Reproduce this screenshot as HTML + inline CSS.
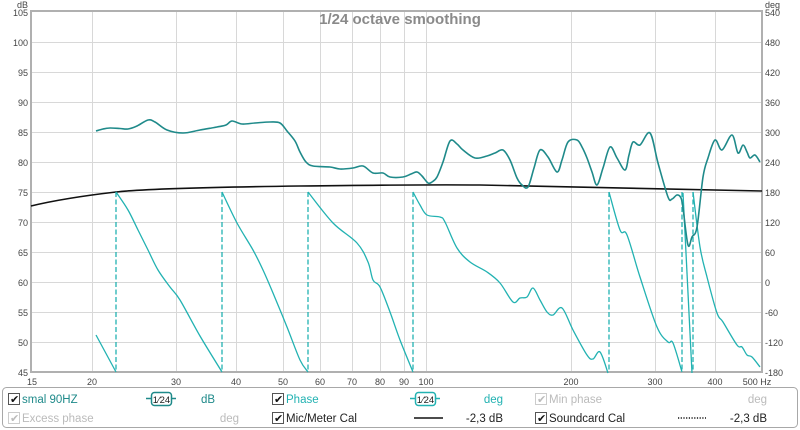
<!DOCTYPE html>
<html><head><meta charset="utf-8"><style>
body{margin:0;background:#fff;}
svg{display:block;font-family:"Liberation Sans",sans-serif;}
</style></head><body>
<svg width="800" height="430" viewBox="0 0 800 430" xmlns="http://www.w3.org/2000/svg">
<rect width="800" height="430" fill="#fff"/>
<g stroke="#d8d8d8" stroke-width="1">
<line x1="31" y1="42.5" x2="762" y2="42.5"/><line x1="31" y1="72.5" x2="762" y2="72.5"/><line x1="31" y1="102.5" x2="762" y2="102.5"/><line x1="31" y1="132.5" x2="762" y2="132.5"/><line x1="31" y1="162.5" x2="762" y2="162.5"/><line x1="31" y1="192.5" x2="762" y2="192.5"/><line x1="31" y1="222.5" x2="762" y2="222.5"/><line x1="31" y1="252.5" x2="762" y2="252.5"/><line x1="31" y1="282.5" x2="762" y2="282.5"/><line x1="31" y1="312.5" x2="762" y2="312.5"/><line x1="31" y1="342.5" x2="762" y2="342.5"/>
<line x1="92.5" y1="11" x2="92.5" y2="372"/><line x1="176.5" y1="11" x2="176.5" y2="372"/><line x1="236.5" y1="11" x2="236.5" y2="372"/><line x1="283.5" y1="11" x2="283.5" y2="372"/><line x1="320.5" y1="11" x2="320.5" y2="372"/><line x1="352.5" y1="11" x2="352.5" y2="372"/><line x1="380.5" y1="11" x2="380.5" y2="372"/><line x1="404.5" y1="11" x2="404.5" y2="372"/><line x1="426.5" y1="11" x2="426.5" y2="372"/><line x1="571.5" y1="11" x2="571.5" y2="372"/><line x1="655.5" y1="11" x2="655.5" y2="372"/><line x1="715.5" y1="11" x2="715.5" y2="372"/>
</g>
<rect x="31" y="11" width="731" height="361" fill="none" stroke="#b0b0b0" stroke-width="2"/>
<text x="400" y="24" text-anchor="middle" font-size="15" font-weight="bold" fill="#8a8a8a">1/24 octave smoothing</text>
<g font-size="9" fill="#444" text-anchor="end">
<text x="28" y="8">dB</text>
<text x="28" y="16">105</text><text x="28" y="46">100</text><text x="28" y="76">95</text><text x="28" y="106">90</text><text x="28" y="136">85</text><text x="28" y="166">80</text><text x="28" y="196">75</text><text x="28" y="226">70</text><text x="28" y="256">65</text><text x="28" y="286">60</text><text x="28" y="316">55</text><text x="28" y="346">50</text><text x="28" y="376">45</text>
</g>
<g font-size="9" fill="#444" text-anchor="start">
<text x="765" y="8">deg</text>
<text x="765" y="16">540</text><text x="765" y="46">480</text><text x="765" y="76">420</text><text x="765" y="106">360</text><text x="765" y="136">300</text><text x="765" y="166">240</text><text x="765" y="196">180</text><text x="765" y="226">120</text><text x="765" y="256">60</text><text x="765" y="286">0</text><text x="765" y="316">-60</text><text x="765" y="346">-120</text><text x="765" y="376">-180</text>
</g>
<g font-size="9" fill="#444" text-anchor="middle">
<text x="32" y="385">15</text><text x="92" y="385">20</text><text x="176" y="385">30</text><text x="236" y="385">40</text><text x="283" y="385">50</text><text x="320" y="385">60</text><text x="352" y="385">70</text><text x="380" y="385">80</text><text x="404" y="385">90</text><text x="426" y="385">100</text><text x="571" y="385">200</text><text x="655" y="385">300</text><text x="715" y="385">400</text><text x="757" y="385">500 Hz</text>
</g>
<path d="M31,206 C60,199 90,195 116,192 S220,187 300,186 S420,184.5 480,185 S640,188 762,191" fill="none" stroke="#111" stroke-width="1.6"/>
<g fill="none" stroke="#22b2b2" stroke-width="1.3" stroke-linejoin="round">
<path class="sm" d="M96,335 L116,372"/>
<path class="sm" d="M116,192 L128,210 L138,230 L148,250 L158,270 L170,287 L180,300 L200,336 L222,372"/>
<path class="sm" d="M222,192 L237,223 L253,250 L263,270 L273,293 L287,327 L300,360 L308,372"/>
<path class="sm" d="M308,192 L333,223 L357,243 L368,262 L373,280 L380,287 L390,312 L400,340 L413,372"/>
<path class="sm" d="M413,192 L420,205 L427,215 L440,217 L445,222 L457,248 L470,262 L487,272 L500,283 L513,302 L520,298 L527,297 L533,288 L540,300 L547,312 L553,315 L562,308 L573,330 L587,355 L593,359 L600,352 L608,373"/>
<path class="sm" d="M609,192 L620,230 L627,235 L640,277 L657,327 L668,342 L673,343 L682,372"/>
<path d="M683,193 L692,373"/>
<path class="sm" d="M693,192 L700,247 L707,277 L717,313 L723,322 L737,345 L742,347 L747,355 L752,357 L760,367"/>
</g>
<g stroke="#22b2b2" stroke-width="1.3" stroke-dasharray="5,2.5">
<line x1="116" y1="192" x2="116" y2="372"/><line x1="222" y1="192" x2="222" y2="372"/><line x1="308" y1="192" x2="308" y2="372"/><line x1="413" y1="192" x2="413" y2="372"/><line x1="609" y1="192" x2="609" y2="372"/><line x1="682" y1="192" x2="682" y2="372"/><line x1="693" y1="192" x2="693" y2="372"/>
</g>
<path class="sm" d="M96,131 L103,129 L110,128 L120,128.5 L128,129 L137,126 L148,120 L155,122 L167,130 L183,133 L200,130 L217,127 L226,125 L232,121 L242,124 L255,123 L270,122 L280,123 L287,131 L295,141 L300,152 L306,162 L313,166 L330,167 L340,169 L353,168 L363,166 L373,173 L383,173 L390,177 L403,177 L411,174 L417,172 L422,176 L428,183 L432,182 L437,177 L443,162 L450,141 L457,144 L463,150 L475,158 L487,156 L495,153 L503,150 L510,160 L517,178 L522,185 L528,187 L534,168 L540,150 L548,157 L557,172 L562,160 L568,142 L577,140 L582,147 L587,158 L592,172 L597,185 L603,168 L610,147 L617,158 L625,170 L629,155 L633,142 L640,145 L650,133 L658,163 L668,197 L672,199 L677,195 L681,198 L683,208 L688,245 L692,237 L697,227 L703,177 L708,158 L715,140 L722,150 L732,135 L738,153 L743,145 L747,152 L750,158 L755,155 L760,162" fill="none" stroke="#1f8a8a" stroke-width="1.6" stroke-linejoin="round"/>
<rect x="2.5" y="387.5" width="795" height="40" rx="4" fill="#fff" stroke="#a8a8a8"/>
<g font-size="11.5">
<rect x="8.5" y="393.5" width="11" height="11" fill="#fff" stroke="#555"/><text x="10" y="403" font-size="11" fill="#111">✔</text>
<text x="22" y="403" fill="#1f8a8a">smal 90HZ</text>
<text x="208" y="403" fill="#1f8a8a" text-anchor="middle">dB</text>
<rect x="8.5" y="412.5" width="11" height="11" fill="#fff" stroke="#ccc"/><text x="10" y="422" font-size="11" fill="#bbb">✔</text>
<text x="22" y="422" fill="#bbb">Excess phase</text>
<text x="239" y="422" fill="#bbb" text-anchor="end">deg</text>
<rect x="272.5" y="393.5" width="11" height="11" fill="#fff" stroke="#555"/><text x="274" y="403" font-size="11" fill="#111">✔</text>
<text x="286" y="403" fill="#22b2b2">Phase</text>
<text x="503" y="403" fill="#22b2b2" text-anchor="end">deg</text>
<rect x="272.5" y="412.5" width="11" height="11" fill="#fff" stroke="#555"/><text x="274" y="422" font-size="11" fill="#111">✔</text>
<text x="286" y="422" fill="#222">Mic/Meter Cal</text>
<line x1="414" y1="418" x2="443" y2="418" stroke="#111" stroke-width="1.5"/>
<text x="503" y="422" fill="#222" text-anchor="end">-2,3 dB</text>
<rect x="535.5" y="393.5" width="11" height="11" fill="#fff" stroke="#ccc"/><text x="537" y="403" font-size="11" fill="#bbb">✔</text>
<text x="549" y="403" fill="#bbb">Min phase</text>
<text x="767" y="403" fill="#bbb" text-anchor="end">deg</text>
<rect x="535.5" y="412.5" width="11" height="11" fill="#fff" stroke="#555"/><text x="537" y="422" font-size="11" fill="#111">✔</text>
<text x="549" y="422" fill="#222">Soundcard Cal</text>
<line x1="678" y1="418" x2="706" y2="418" stroke="#111" stroke-width="1.5" stroke-dasharray="1.2,1.5"/>
<text x="767" y="422" fill="#222" text-anchor="end">-2,3 dB</text>
</g>
<g>
<line x1="146" y1="398.5" x2="176" y2="398.5" stroke="#1f8a8a" stroke-width="1.5"/>
<rect x="151.5" y="392.5" width="20" height="13" rx="3" fill="#fff" stroke="#1f8a8a" stroke-width="1.5"/>
<text x="161.5" y="403" font-size="9.5" fill="#222" text-anchor="middle">1⁄24</text>
<line x1="410" y1="398.5" x2="440" y2="398.5" stroke="#22b2b2" stroke-width="1.5"/>
<rect x="415.5" y="392.5" width="20" height="13" rx="3" fill="#fff" stroke="#22b2b2" stroke-width="1.5"/>
<text x="425.5" y="403" font-size="9.5" fill="#222" text-anchor="middle">1⁄24</text>
</g>
</svg>
<script>
document.querySelectorAll('path.sm').forEach(function(p){
  var nums=p.getAttribute('d').match(/-?[\d.]+/g).map(Number);
  var pts=[];for(var i=0;i<nums.length;i+=2)pts.push([nums[i],nums[i+1]]);
  if(pts.length<3)return;
  var d='M'+pts[0][0]+','+pts[0][1];
  for(var i=0;i<pts.length-1;i++){
    var p0=pts[Math.max(0,i-1)],p1=pts[i],p2=pts[i+1],p3=pts[Math.min(pts.length-1,i+2)];
    var c1x=p1[0]+(p2[0]-p0[0])/6,c1y=p1[1]+(p2[1]-p0[1])/6;
    var c2x=p2[0]-(p3[0]-p1[0])/6,c2y=p2[1]-(p3[1]-p1[1])/6;
    d+=' C'+c1x.toFixed(2)+','+c1y.toFixed(2)+' '+c2x.toFixed(2)+','+c2y.toFixed(2)+' '+p2[0]+','+p2[1];
  }
  p.setAttribute('d',d);
});
</script>
</body></html>
